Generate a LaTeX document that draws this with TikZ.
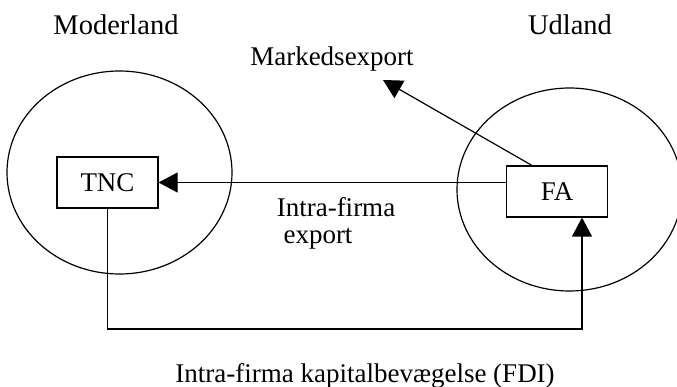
\documentclass[tikz,border=0pt]{standalone}
\usepackage{fontspec}
\setmainfont{Liberation Serif}
\usetikzlibrary{arrows.meta,shapes.geometric}
\begin{document}
\begin{tikzpicture}[x=1pt,y=-1pt,
  every node/.style={font=\fontsize{27}{31}\selectfont},
  country/.style={draw,ellipse,line width=1.2pt,inner sep=0pt,minimum width=225pt,minimum height=203pt},
  firm/.style={draw,rectangle,line width=1.2pt,inner sep=0pt,minimum width=101pt,minimum height=51pt},
  lbl/.style={anchor=base,inner sep=0pt},
  big/.style={font=\fontsize{28.5}{32}\selectfont},
  arr/.style={line width=1.2pt,-{Triangle[length=19pt,width=20pt]}},
  ln/.style={line width=1.2pt}]
\useasboundingbox (0,0) rectangle (677,387);
\node[country] (home) at (119.5,172.5) {};
\node[country] (host) at (569.5,189.5) {};
\node[firm] (tnc) at (107.5,182.5) {TNC};
\node[firm] (fa) at (557,191.5) {FA};
\node[lbl,big] (moder) at (116,35) {Moderland};
\node[lbl,big] (ud) at (570,35) {Udland};
\node[lbl] (mkt) at (332,66) {Markedsexport};
\node[lbl] (ie1) at (336,217) {Intra-firma};
\node[lbl] (ie2) at (318,244) {export};
\node[lbl] (fdi) at (365,382) {Intra-firma kapitalbevægelse (FDI)};
\coordinate (mk) at (383,80);
\coordinate (c1) at (582,329);
\draw[arr] (fa.west |- tnc.east) -- (tnc.east);
\draw[arr] ([xshift=26pt]fa.north west) -- (mk);
\draw[arr] (tnc.south) |- (c1) -- (c1 |- fa.south);
\end{tikzpicture}
\end{document}
